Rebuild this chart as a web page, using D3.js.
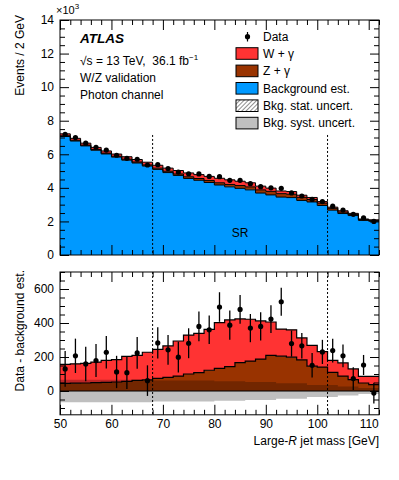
<!DOCTYPE html>
<html>
<head>
<meta charset="utf-8">
<script src="https://cdn.jsdelivr.net/npm/d3@7"></script>
<style>
  body { margin: 0; background: white; }
  svg text { font-family: "Liberation Sans", Arial, Helvetica, sans-serif; }
</style>
</head>
<body>
<svg></svg>
<script>
// bin centres (2 GeV bins)
const massBins = [51, 53, 55, 57, 59, 61, 63, 65, 67, 69, 71, 73, 75, 77, 79, 81,
                  83, 85, 87, 89, 91, 93, 95, 97, 99, 101, 103, 105, 107, 109, 111];
const dataEvents = [7190, 6997, 6659, 6419, 6248, 5942, 5758, 5704, 5361, 5383, 5152, 4939, 4841, 4830, 4680, 4664,
                    4447, 4450, 4250, 4070, 4003, 3975, 3699, 3516, 3311, 3180, 2908, 2677, 2423, 2213, 1998];
const dataErr = [105, 101, 101, 97, 96, 95, 96, 93, 90, 92, 88, 90, 88, 88, 84, 87,
                 86, 85, 83, 83, 82, 82, 77, 75, 72, 71, 70, 67, 67, 59, 61];
const bkgEst = [7060, 6790, 6500, 6240, 6020, 5830, 5650, 5480, 5300, 5100, 4910, 4740, 4560, 4450, 4320, 4170,
                4060, 3970, 3880, 3690, 3580, 3450, 3420, 3250, 3160, 2950, 2670, 2470, 2350, 2060, 2010];
const zGamma = [45, 46, 47, 49, 51, 53, 57, 62, 66, 74, 80, 88, 100, 108, 122, 133,
                143, 167, 176, 188, 210, 205, 199, 183, 146, 141, 110, 88, 67, 47, 38];
const wGamma = [112, 114, 116, 121, 129, 131, 147, 148, 162, 171, 185, 206, 229, 231, 241, 269,
                275, 257, 246, 224, 196, 159, 161, 129, 122, 91, 70, 77, 63, 39, 48];
const systUnc = [66, 66, 66, 66, 66, 66, 66, 66, 66, 62, 62, 62, 62, 62, 62, 58,
                 58, 58, 53, 53, 53, 46, 46, 46, 36, 36, 36, 27, 27, 18, 18];
const srEdges = [68, 102];

const topTicks = [0, 2, 4, 6, 8, 10, 12, 14];
const ratioTicks = [0, 200, 400, 600];
const massTicks = [50, 60, 70, 80, 90, 100, 110];

const legendItems = [
  { label: 'W + \u03b3', fill: '#ff3333' },
  { label: 'Z + \u03b3', fill: '#993300' },
  { label: 'Background est.', fill: '#0099ff' },
  { label: 'Bkg. stat. uncert.', fill: 'url(#hatch)' },
  { label: 'Bkg. syst. uncert.', fill: '#c0c0c0' }
];

const W = 399, H = 480;
const left = 60, right = 379;
const svg = d3.select('svg').attr('width', W).attr('height', H);

const defs = svg.append('defs');
const pat = defs.append('pattern').attr('id', 'hatch').attr('patternUnits', 'userSpaceOnUse')
  .attr('width', 3).attr('height', 3).attr('patternTransform', 'rotate(45)');
pat.append('rect').attr('width', 3).attr('height', 3).attr('fill', 'white');
pat.append('line').attr('x1', 0).attr('y1', 0).attr('x2', 0).attr('y2', 3)
  .attr('stroke', '#444').attr('stroke-width', 1.2);

const x = d3.scaleLinear().domain([50, 112]).range([left, right]);
const yTop = d3.scaleLinear().domain([0, 14]).range([255, 20]);
const yBot = d3.scaleLinear().domain([-140, 700]).range([414.8, 272]);

// step helper: two points per bin
function steps(vals) {
  const pts = [];
  massBins.forEach((c, i) => {
    pts.push({ x: c - 1, v: vals[i], i: i });
    pts.push({ x: c + 1, v: vals[i], i: i });
  });
  return pts;
}

const totZ = bkgEst.map((b, i) => b + zGamma[i]);
const totW = totZ.map((b, i) => b + wGamma[i]);
const diff = dataEvents.map((d, i) => d - bkgEst[i]);
const zw = zGamma.map((z, i) => z + wGamma[i]);

// ---------- top panel ----------
const gTop = svg.append('g');
const clipTop = defs.append('clipPath').attr('id', 'clipTop');
clipTop.append('rect').attr('x', left).attr('y', 20).attr('width', right - left).attr('height', 235);

const areaTop = (lo, hi) => d3.area()
  .x(d => x(d.x))
  .y0(d => yTop(lo[d.i] / 1000))
  .y1(d => yTop(hi[d.i] / 1000));
const zeros = massBins.map(() => 0);
const stackG = gTop.append('g').attr('clip-path', 'url(#clipTop)');
stackG.append('path').datum(steps(totW)).attr('d', areaTop(totZ, totW)).attr('fill', '#ff3333');
stackG.append('path').datum(steps(totZ)).attr('d', areaTop(bkgEst, totZ)).attr('fill', '#993300');
stackG.append('path').datum(steps(bkgEst)).attr('d', areaTop(zeros, bkgEst)).attr('fill', '#0099ff');
const lineTop = d3.line().x(d => x(d.x)).y(d => yTop(d.v / 1000));
[bkgEst, totZ, totW].forEach(arr => {
  stackG.append('path').datum(steps(arr)).attr('d', lineTop)
    .attr('fill', 'none').attr('stroke', 'black').attr('stroke-width', 1);
});

srEdges.forEach(m => {
  gTop.append('line').attr('x1', x(m)).attr('x2', x(m))
    .attr('y1', yTop(7.15)).attr('y2', yTop(0))
    .attr('stroke', 'black').attr('stroke-width', 1).attr('stroke-dasharray', '2,2');
});

// data points top
massBins.forEach((c, i) => {
  gTop.append('line').attr('x1', x(c)).attr('x2', x(c))
    .attr('y1', yTop((dataEvents[i] - dataErr[i]) / 1000))
    .attr('y2', yTop((dataEvents[i] + dataErr[i]) / 1000))
    .attr('stroke', 'black').attr('stroke-width', 1.3);
  gTop.append('circle').attr('cx', x(c)).attr('cy', yTop(dataEvents[i] / 1000))
    .attr('r', 2.6).attr('fill', 'black');
});

gTop.append('text').attr('x', x(85)).attr('y', 237).attr('text-anchor', 'middle')
  .attr('font-size', 12).text('SR');

// ---------- bottom panel ----------
const gBot = svg.append('g');
const clipBot = defs.append('clipPath').attr('id', 'clipBot');
clipBot.append('rect').attr('x', left).attr('y', 272).attr('width', right - left).attr('height', 142.8);
const botG = gBot.append('g').attr('clip-path', 'url(#clipBot)');

const areaBot = (lo, hi) => d3.area()
  .x(d => x(d.x))
  .y0(d => yBot(lo[d.i]))
  .y1(d => yBot(hi[d.i]));
botG.append('path').datum(steps(zw)).attr('d', areaBot(zGamma, zw)).attr('fill', '#ff3333');
botG.append('path').datum(steps(zGamma)).attr('d', areaBot(zeros, zGamma)).attr('fill', '#993300');
const lineBot = d3.line().x(d => x(d.x)).y(d => yBot(d.v));
[zGamma, zw].forEach(arr => {
  botG.append('path').datum(steps(arr)).attr('d', lineBot)
    .attr('fill', 'none').attr('stroke', 'black').attr('stroke-width', 1.2);
});
// syst band
botG.append('path').datum(steps(systUnc))
  .attr('d', d3.area().x(d => x(d.x)).y0(d => yBot(-d.v)).y1(d => yBot(d.v)))
  .attr('fill', 'black').attr('fill-opacity', 0.25);
botG.append('line').attr('x1', left).attr('x2', right).attr('y1', yBot(0)).attr('y2', yBot(0))
  .attr('stroke', 'black').attr('stroke-width', 1);

srEdges.forEach(m => {
  gBot.append('line').attr('x1', x(m)).attr('x2', x(m))
    .attr('y1', 272).attr('y2', 414.8)
    .attr('stroke', 'black').attr('stroke-width', 1).attr('stroke-dasharray', '2,2');
});

massBins.forEach((c, i) => {
  gBot.append('line').attr('x1', x(c)).attr('x2', x(c))
    .attr('y1', yBot(diff[i] - dataErr[i])).attr('y2', yBot(diff[i] + dataErr[i]))
    .attr('stroke', 'black').attr('stroke-width', 1.3);
  gBot.append('circle').attr('cx', x(c)).attr('cy', yBot(diff[i])).attr('r', 2.6).attr('fill', 'black');
});

// ---------- axes / frames ----------
function frame(g, y0, y1) {
  g.append('rect').attr('x', left).attr('y', y0).attr('width', right - left).attr('height', y1 - y0)
    .attr('fill', 'none').attr('stroke', 'black').attr('stroke-width', 1);
}
function ticksY(g, scale, major, minorStep, majLen, minLen, labels) {
  const [d0, d1] = scale.domain();
  const minor = d3.range(Math.ceil(d0 / minorStep) * minorStep, d1 + 1e-9, minorStep)
    .filter(v => !major.includes(v));
  const allMajor = d3.range(Math.ceil(d0 / (minorStep * 4)) * minorStep * 4, d1 + 1e-9, minorStep * 4);
  g.append('g').attr('transform', `translate(${left},0)`)
    .call(d3.axisLeft(scale).tickValues(minor).tickSize(-minLen).tickFormat(''))
    .call(a => a.select('.domain').remove());
  g.append('g').attr('transform', `translate(${right},0)`)
    .call(d3.axisRight(scale).tickValues(minor).tickSize(-minLen).tickFormat(''))
    .call(a => a.select('.domain').remove());
  g.append('g').attr('transform', `translate(${right},0)`)
    .call(d3.axisRight(scale).tickValues(allMajor).tickSize(-majLen).tickFormat(''))
    .call(a => a.select('.domain').remove());
  g.append('g').attr('transform', `translate(${left},0)`)
    .call(d3.axisLeft(scale).tickValues(allMajor).tickSize(-majLen).tickPadding(6)
      .tickFormat(v => labels.includes(v) ? d3.format('d')(v) : ''))
    .call(a => a.select('.domain').remove())
    .call(a => a.selectAll('text').attr('font-size', 12).attr('fill', 'black')
      .style('font-family', '"Liberation Sans", Arial, sans-serif'));
}
function ticksX(g, y0, y1, showLabels) {
  const minor = d3.range(52, 112.01, 2).filter(v => v % 10 !== 0);
  [[y0, d3.axisTop], [y1, d3.axisBottom]].forEach(([yy, ax]) => {
    g.append('g').attr('transform', `translate(0,${yy})`)
      .call(ax(x).tickValues(minor).tickSize(-5).tickFormat(''))
      .call(a => a.select('.domain').remove());
  });
  g.append('g').attr('transform', `translate(0,${y0})`)
    .call(d3.axisTop(x).tickValues(massTicks).tickSize(-10).tickFormat(''))
    .call(a => a.select('.domain').remove());
  g.append('g').attr('transform', `translate(0,${y1})`)
    .call(d3.axisBottom(x).tickValues(massTicks).tickSize(-10).tickPadding(5)
      .tickFormat(showLabels ? d3.format('d') : ''))
    .call(a => a.select('.domain').remove())
    .call(a => a.selectAll('text').attr('font-size', 12).attr('fill', 'black')
      .style('font-family', '"Liberation Sans", Arial, sans-serif'));
}

ticksY(gTop, yTop, topTicks, 0.5, 9, 5, topTicks);
ticksX(gTop, 20, 255, false);
frame(gTop, 20, 255);

ticksY(gBot, yBot, ratioTicks, 50, 9, 5, ratioTicks);
ticksX(gBot, 272, 414.8, true);
frame(gBot, 272, 414.8);

// axis titles
const xe = svg.append('text').attr('x', left - 4).attr('y', 14).attr('font-size', 11);
xe.append('tspan').text('\u00d710');
xe.append('tspan').attr('dy', -5).attr('font-size', 8).text('3');

svg.append('text').attr('transform', 'translate(24,15) rotate(-90)').attr('text-anchor', 'end')
  .attr('font-size', 12).text('Events / 2 GeV');
svg.append('text').attr('transform', 'translate(24,270) rotate(-90)').attr('text-anchor', 'end')
  .attr('font-size', 12).text('Data - background est.');
const xt = svg.append('text').attr('x', right).attr('y', 445).attr('text-anchor', 'end').attr('font-size', 12);
xt.append('tspan').text('Large-');
xt.append('tspan').attr('font-style', 'italic').text('R');
xt.append('tspan').text(' jet mass [GeV]');

// ATLAS label
svg.append('text').attr('x', 80).attr('y', 43).attr('font-size', 13.5)
  .attr('font-weight', 'bold').attr('font-style', 'italic').text('ATLAS');
const lumi = svg.append('text').attr('x', 80).attr('y', 65).attr('font-size', 12)
  .style('white-space', 'pre');
lumi.append('tspan').text('\u221As = 13 TeV,  36.1 fb');
lumi.append('tspan').attr('dy', -5).attr('font-size', 8).text('\u22121');
svg.append('text').attr('x', 80).attr('y', 82).attr('font-size', 12).text('W/Z validation');
svg.append('text').attr('x', 80).attr('y', 99).attr('font-size', 12).text('Photon channel');

// legend
const lg = svg.append('g');
lg.append('line').attr('x1', 247.5).attr('x2', 247.5).attr('y1', 32).attr('y2', 41.5)
  .attr('stroke', 'black').attr('stroke-width', 1.2);
lg.append('circle').attr('cx', 247.5).attr('cy', 36.7).attr('r', 2.6).attr('fill', 'black');
lg.append('text').attr('x', 263).attr('y', 41).attr('font-size', 12).text('Data');
legendItems.forEach((it, k) => {
  const cy = 53.5 + k * 17.4;
  lg.append('rect').attr('x', 236).attr('y', cy - 5.8).attr('width', 22).attr('height', 11.6)
    .attr('fill', it.fill).attr('stroke', 'black').attr('stroke-width', 1);
  lg.append('text').attr('x', 263).attr('y', cy + 4.2).attr('font-size', 12).text(it.label);
});
</script>
</body>
</html>
